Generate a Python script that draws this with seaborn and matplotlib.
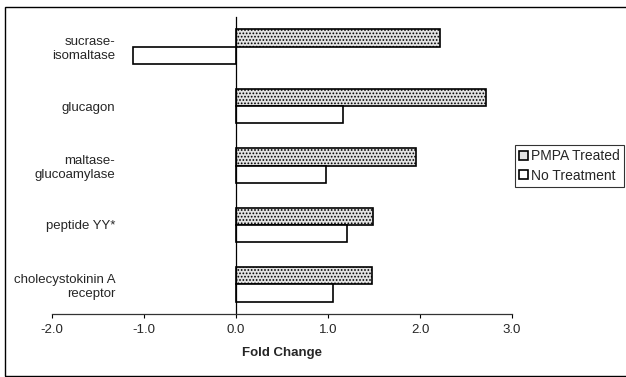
import numpy as np
import pandas as pd
import matplotlib
matplotlib.use("Agg")
import matplotlib.pyplot as plt
import seaborn as sns
from matplotlib.patches import Rectangle

# data
genes = ["sucrase-\nisomaltase", "glucagon", "maltase-\nglucoamylase",
         "peptide YY*", "cholecystokinin A\nreceptor"]
pmpa_treated = [2.22, 2.72, 1.96, 1.49, 1.48]
no_treatment = [-1.12, 1.16, 0.98, 1.21, 1.05]
groups = ["PMPA Treated", "No Treatment"]
xticks = [-2.0, -1.0, 0.0, 1.0, 2.0, 3.0]

df = pd.DataFrame({
    "gene": genes * 2,
    "fold": pmpa_treated + no_treatment,
    "group": [groups[0]] * len(genes) + [groups[1]] * len(genes),
})

sns.set_style("white")
plt.rcParams['font.family'] = ['Liberation Sans', 'DejaVu Sans']
plt.rcParams['hatch.color'] = '#8c8c8c'
plt.rcParams['hatch.linewidth'] = 0.8

fig = plt.figure(figsize=(6.26, 3.77), dpi=100)
ax = fig.add_axes([52 / 626, 1 - 314 / 377, 460 / 626, 297 / 377])

sns.barplot(data=df, x="fold", y="gene", hue="group", order=genes,
            hue_order=groups, orient="h", width=0.58,
            palette={groups[0]: "#e2e2e2", groups[1]: "white"},
            edgecolor="black", linewidth=1.2, ax=ax)

for bar in ax.containers[0]:
    bar.set_hatch(".....")

ax.set_xlim(-2, 3)
ax.set_ylim(4.5, -0.5)
ax.set_xticks(xticks)
ax.set_xticklabels([f"{v:.1f}" for v in xticks], fontsize=9.5)
ax.set_xlabel("Fold Change", fontsize=9.5, fontweight="bold", labelpad=8)
ax.set_ylabel("")

# y axis sits at zero, labels pushed out to the left
for s in ["top", "right"]:
    ax.spines[s].set_visible(False)
ax.spines["left"].set_position(("data", 0))
ax.spines["left"].set_color("black")
ax.spines["left"].set_linewidth(0.9)
ax.spines["bottom"].set_color("#333333")
ax.spines["bottom"].set_linewidth(0.9)

ax.set_yticks(np.arange(len(genes)))
ax.set_yticklabels(genes, fontsize=9.5)
ax.set_yticks(np.arange(-0.5, len(genes) - 0.5), minor=True)
ax.tick_params(axis="y", which="major", length=0, pad=87)
ax.tick_params(axis="y", which="minor", length=3, width=0.8, direction="out", color="black")
ax.tick_params(axis="x", length=3, width=0.8, direction="out", color="black", bottom=True, pad=4)

leg = ax.legend(loc="upper left", bbox_to_anchor=(515 / 626, 1 - 145 / 377),
                bbox_transform=fig.transFigure, fontsize=10, frameon=True,
                fancybox=False, handlelength=0.6, handleheight=0.6,
                handletextpad=0.25, borderpad=0.3, labelspacing=0.4,
                borderaxespad=0)
leg.get_frame().set_edgecolor("black")
leg.get_frame().set_linewidth(0.8)

# outer border of the picture
fig.patches.append(Rectangle((5 / 626, 1 / 377), 1.0, 369 / 377, transform=fig.transFigure,
                             fill=False, edgecolor="black", linewidth=1.0))

fig.savefig("out.png", dpi=100)
